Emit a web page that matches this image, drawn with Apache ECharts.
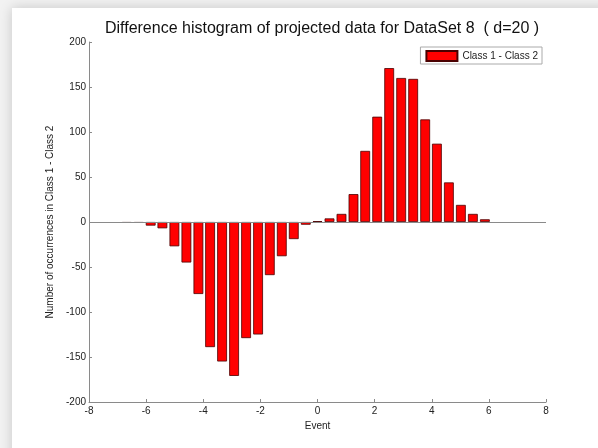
<!DOCTYPE html>
<html>
<head>
<meta charset="utf-8">
<script src="https://cdn.jsdelivr.net/npm/echarts@6/dist/echarts.min.js"></script>
<style>
  html, body { margin: 0; padding: 0; background: #f2f2f2; }
  #chart { width: 598px; height: 448px; }
</style>
</head>
<body>
<div id="chart"></div>
<script>
// Histogram bin centres (Event)
var binCenters = [-6.68, -6.26, -5.84, -5.43, -5.01, -4.59, -4.17, -3.76, -3.34, -2.92,
                  -2.50, -2.08, -1.67, -1.25, -0.83, -0.41, 0.00, 0.42, 0.84, 1.26,
                  1.67, 2.09, 2.51, 2.93, 3.35, 3.77, 4.18, 4.60, 5.02, 5.44, 5.86];
// Class 1 count minus Class 2 count per bin
var diffCounts = [-1, -1, -4, -7, -27, -45, -80, -139, -155, -171,
                  -129, -125, -59, -38, -19, -3, 1, 4, 9, 31,
                  79, 117, 171, 160, 159, 114, 87, 44, 19, 9, 3];
var xTicks = [-8, -6, -4, -2, 0, 2, 4, 6, 8];
var yTicks = [-200, -150, -100, -50, 0, 50, 100, 150, 200];
var seriesName = 'Class 1 - Class 2';

var FONT = '"Liberation Sans", Arial, sans-serif';
var seriesData = binCenters.map(function (x, i) { return [x, diffCounts[i]]; });

var chart = echarts.init(document.getElementById('chart'), null, { renderer: 'canvas' });
chart.setOption({
  backgroundColor: '#f2f2f2',
  animation: false,
  graphic: [{
    type: 'rect',
    z: -10,
    shape: { x: 12, y: 8, width: 620, height: 470 },
    style: { fill: '#ffffff', shadowBlur: 12, shadowColor: 'rgba(0,0,0,0.18)' },
    silent: true
  }],
  title: {
    text: 'Difference histogram of projected data for DataSet 8  ( d=20 )',
    left: 317, top: 16, textAlign: 'center',
    textStyle: { fontFamily: FONT, fontSize: 16, fontWeight: 'normal', color: '#111' }
  },
  legend: {
    right: 56, top: 47,
    itemWidth: 31, itemHeight: 10, itemGap: 4,
    padding: [3, 4, 2, 5],
    borderColor: '#aaaaaa', borderWidth: 1,
    backgroundColor: '#ffffff',
    textStyle: { fontFamily: FONT, fontSize: 10, color: '#222' },
    data: [{ name: seriesName, icon: 'rect' }]
  },
  grid: { left: 89, right: 52, top: 42, bottom: 46, containLabel: false },
  xAxis: {
    type: 'value', min: xTicks[0], max: xTicks[xTicks.length - 1], interval: 2,
    name: 'Event', nameLocation: 'middle', nameGap: 17,
    nameTextStyle: { fontFamily: FONT, fontSize: 10, color: '#222' },
    axisLine: { onZero: false, lineStyle: { color: '#8a8a8a', width: 1 } },
    axisTick: { inside: true, length: 3, lineStyle: { color: '#8a8a8a' } },
    axisLabel: { fontFamily: FONT, fontSize: 10, color: '#222', margin: 4 },
    splitLine: { show: false }
  },
  yAxis: {
    type: 'value', min: yTicks[0], max: yTicks[yTicks.length - 1], interval: 50,
    name: 'Number of occurrences in Class 1 - Class 2', nameLocation: 'middle', nameGap: 25,
    nameTextStyle: { fontFamily: FONT, fontSize: 10, color: '#222' },
    axisLine: { show: true, onZero: false, lineStyle: { color: '#8a8a8a', width: 1 } },
    axisTick: { show: true, inside: true, length: 3, lineStyle: { color: '#8a8a8a' } },
    axisLabel: { fontFamily: FONT, fontSize: 10, color: '#222', margin: 3 },
    splitLine: { show: false }
  },
  series: [{
    name: seriesName,
    type: 'bar',
    data: seriesData,
    barWidth: 9.8,
    itemStyle: { color: '#ff0000', borderColor: '#4a0000', borderWidth: 0.8 },
    markLine: {
      silent: true, symbol: 'none', label: { show: false },
      lineStyle: { color: '#8a8a8a', width: 1, type: 'solid' },
      data: [{ yAxis: 0 }]
    }
  }]
});
</script>
</body>
</html>
